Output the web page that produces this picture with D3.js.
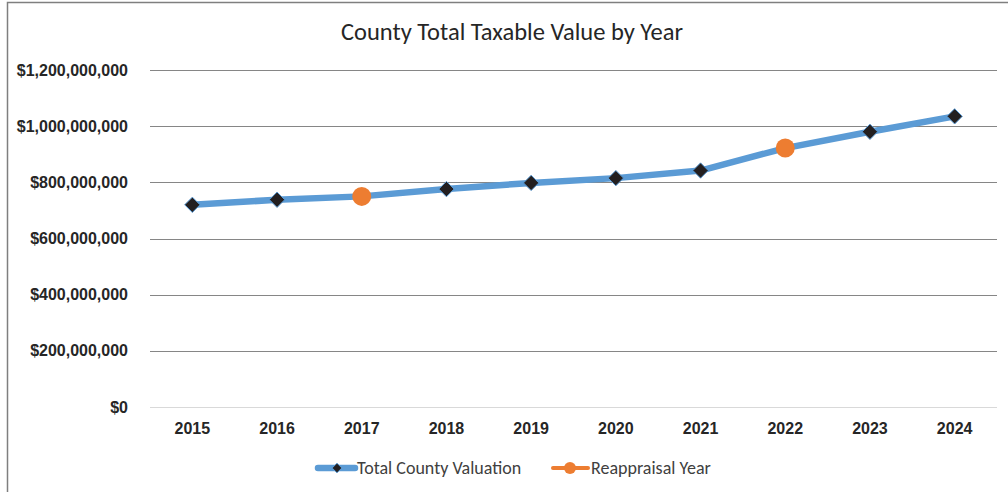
<!DOCTYPE html>
<html>
<head>
<meta charset="utf-8">
<script src="https://cdn.jsdelivr.net/npm/d3@7"></script>
<style>
  html, body { margin: 0; padding: 0; background: #fff; }
  svg { display: block; font-family: Carlito, Calibri, Lato, "Liberation Sans", sans-serif; }
</style>
</head>
<body>
<div id="chart"></div>
<script>
(function(d3) {
  'use strict';

  var years = ['2015', '2016', '2017', '2018', '2019', '2020', '2021', '2022', '2023', '2024'];
  var valuation = [720e6, 738e6, 750e6, 776e6, 798e6, 815e6, 842e6, 922e6, 980e6, 1035e6];
  var reappraisalYears = ['2017', '2022'];
  var yTicks = [0, 200e6, 400e6, 600e6, 800e6, 1000e6, 1200e6];

  var width = 1008;
  var height = 492;
  var margin = { top: 70, right: 11, bottom: 85, left: 150 };

  var svg = d3.select('#chart')
    .append('svg')
    .attr('width', width)
    .attr('height', height);

  // chart frame (runs off the right and bottom of the picture)
  svg.append('rect')
    .attr('x', 7.5).attr('y', 2.5)
    .attr('width', 1020).attr('height', 520)
    .attr('fill', 'none')
    .attr('stroke', '#7f7f7f')
    .attr('stroke-width', 1.5);

  svg.append('text')
    .attr('x', 512).attr('y', 40)
    .attr('text-anchor', 'middle')
    .attr('font-size', 24.5)
    .attr('fill', '#262626')
    .text('County Total Taxable Value by Year');

  var x = d3.scaleBand()
    .domain(years)
    .range([margin.left, width - margin.right]);

  var y = d3.scaleLinear()
    .domain([0, 1200e6])
    .range([height - margin.bottom, margin.top]);

  var fmt = d3.format('$,.0f');

  // gridlines
  svg.append('g')
    .selectAll('line')
    .data(yTicks)
    .enter()
    .append('line')
    .attr('x1', margin.left)
    .attr('x2', width - margin.right)
    .attr('y1', function(d) { return Math.round(y(d)) + 0.5; })
    .attr('y2', function(d) { return Math.round(y(d)) + 0.5; })
    .attr('stroke', function(d) { return d === 0 ? '#d9d9d9' : '#868686'; })
    .attr('stroke-width', 1.2);

  var yAxis = svg.append('g')
    .attr('transform', 'translate(' + (margin.left - 19) + ',0)')
    .call(d3.axisLeft(y).tickValues(yTicks).tickFormat(fmt).tickSize(0));
  yAxis.select('.domain').remove();
  yAxis.selectAll('text')
    .attr('font-size', 16)
    .attr('font-weight', 'bold')
    .attr('fill', '#262626')
    .attr('font-family', null);

  var xAxis = svg.append('g')
    .attr('transform', 'translate(0,' + (height - margin.bottom) + ')')
    .call(d3.axisBottom(x).tickSize(0).tickPadding(16));
  xAxis.select('.domain').remove();
  xAxis.selectAll('text')
    .attr('font-size', 16)
    .attr('font-weight', 'bold')
    .attr('fill', '#262626')
    .attr('font-family', null);

  var cx = function(d) { return x(d) + x.bandwidth() / 2; };

  var line = d3.line()
    .x(function(d, i) { return cx(years[i]); })
    .y(function(d) { return y(d); });

  svg.append('path')
    .datum(valuation)
    .attr('d', line)
    .attr('fill', 'none')
    .attr('stroke', '#5b9bd5')
    .attr('stroke-width', 6.5)
    .attr('stroke-linejoin', 'round')
    .attr('stroke-linecap', 'round');

  var diamond = d3.symbol().type(d3.symbolDiamond2).size(150);

  svg.append('g')
    .selectAll('path')
    .data(years)
    .enter()
    .filter(function(d) { return reappraisalYears.indexOf(d) < 0; })
    .append('path')
    .attr('d', diamond)
    .attr('transform', function(d) {
      return 'translate(' + cx(d) + ',' + y(valuation[years.indexOf(d)]) + ')';
    })
    .attr('fill', '#231f20')
    .attr('stroke', '#5b9bd5')
    .attr('stroke-width', 1);

  svg.append('g')
    .selectAll('circle')
    .data(reappraisalYears)
    .enter()
    .append('circle')
    .attr('cx', cx)
    .attr('cy', function(d) { return y(valuation[years.indexOf(d)]); })
    .attr('r', 9.5)
    .attr('fill', '#ed7d31');

  // legend
  var legend = svg.append('g').attr('transform', 'translate(0,468)');

  legend.append('line')
    .attr('x1', 318).attr('x2', 355)
    .attr('stroke', '#5b9bd5').attr('stroke-width', 6.5)
    .attr('stroke-linecap', 'round');
  legend.append('path')
    .attr('d', d3.symbol().type(d3.symbolDiamond2).size(60))
    .attr('transform', 'translate(337,0)')
    .attr('fill', '#231f20')
    .attr('stroke', '#5b9bd5').attr('stroke-width', 1);
  legend.append('text')
    .attr('x', 357).attr('y', 6)
    .attr('font-size', 18).attr('fill', '#404040')
    .text('Total County Valuation');

  legend.append('line')
    .attr('x1', 553).attr('x2', 588)
    .attr('stroke', '#ed7d31').attr('stroke-width', 4)
    .attr('stroke-linecap', 'round');
  legend.append('circle')
    .attr('cx', 570).attr('cy', 0).attr('r', 6)
    .attr('fill', '#ed7d31');
  legend.append('text')
    .attr('x', 591).attr('y', 6)
    .attr('font-size', 18).attr('fill', '#404040')
    .text('Reappraisal Year');

})(window.d3);
</script>
</body>
</html>
